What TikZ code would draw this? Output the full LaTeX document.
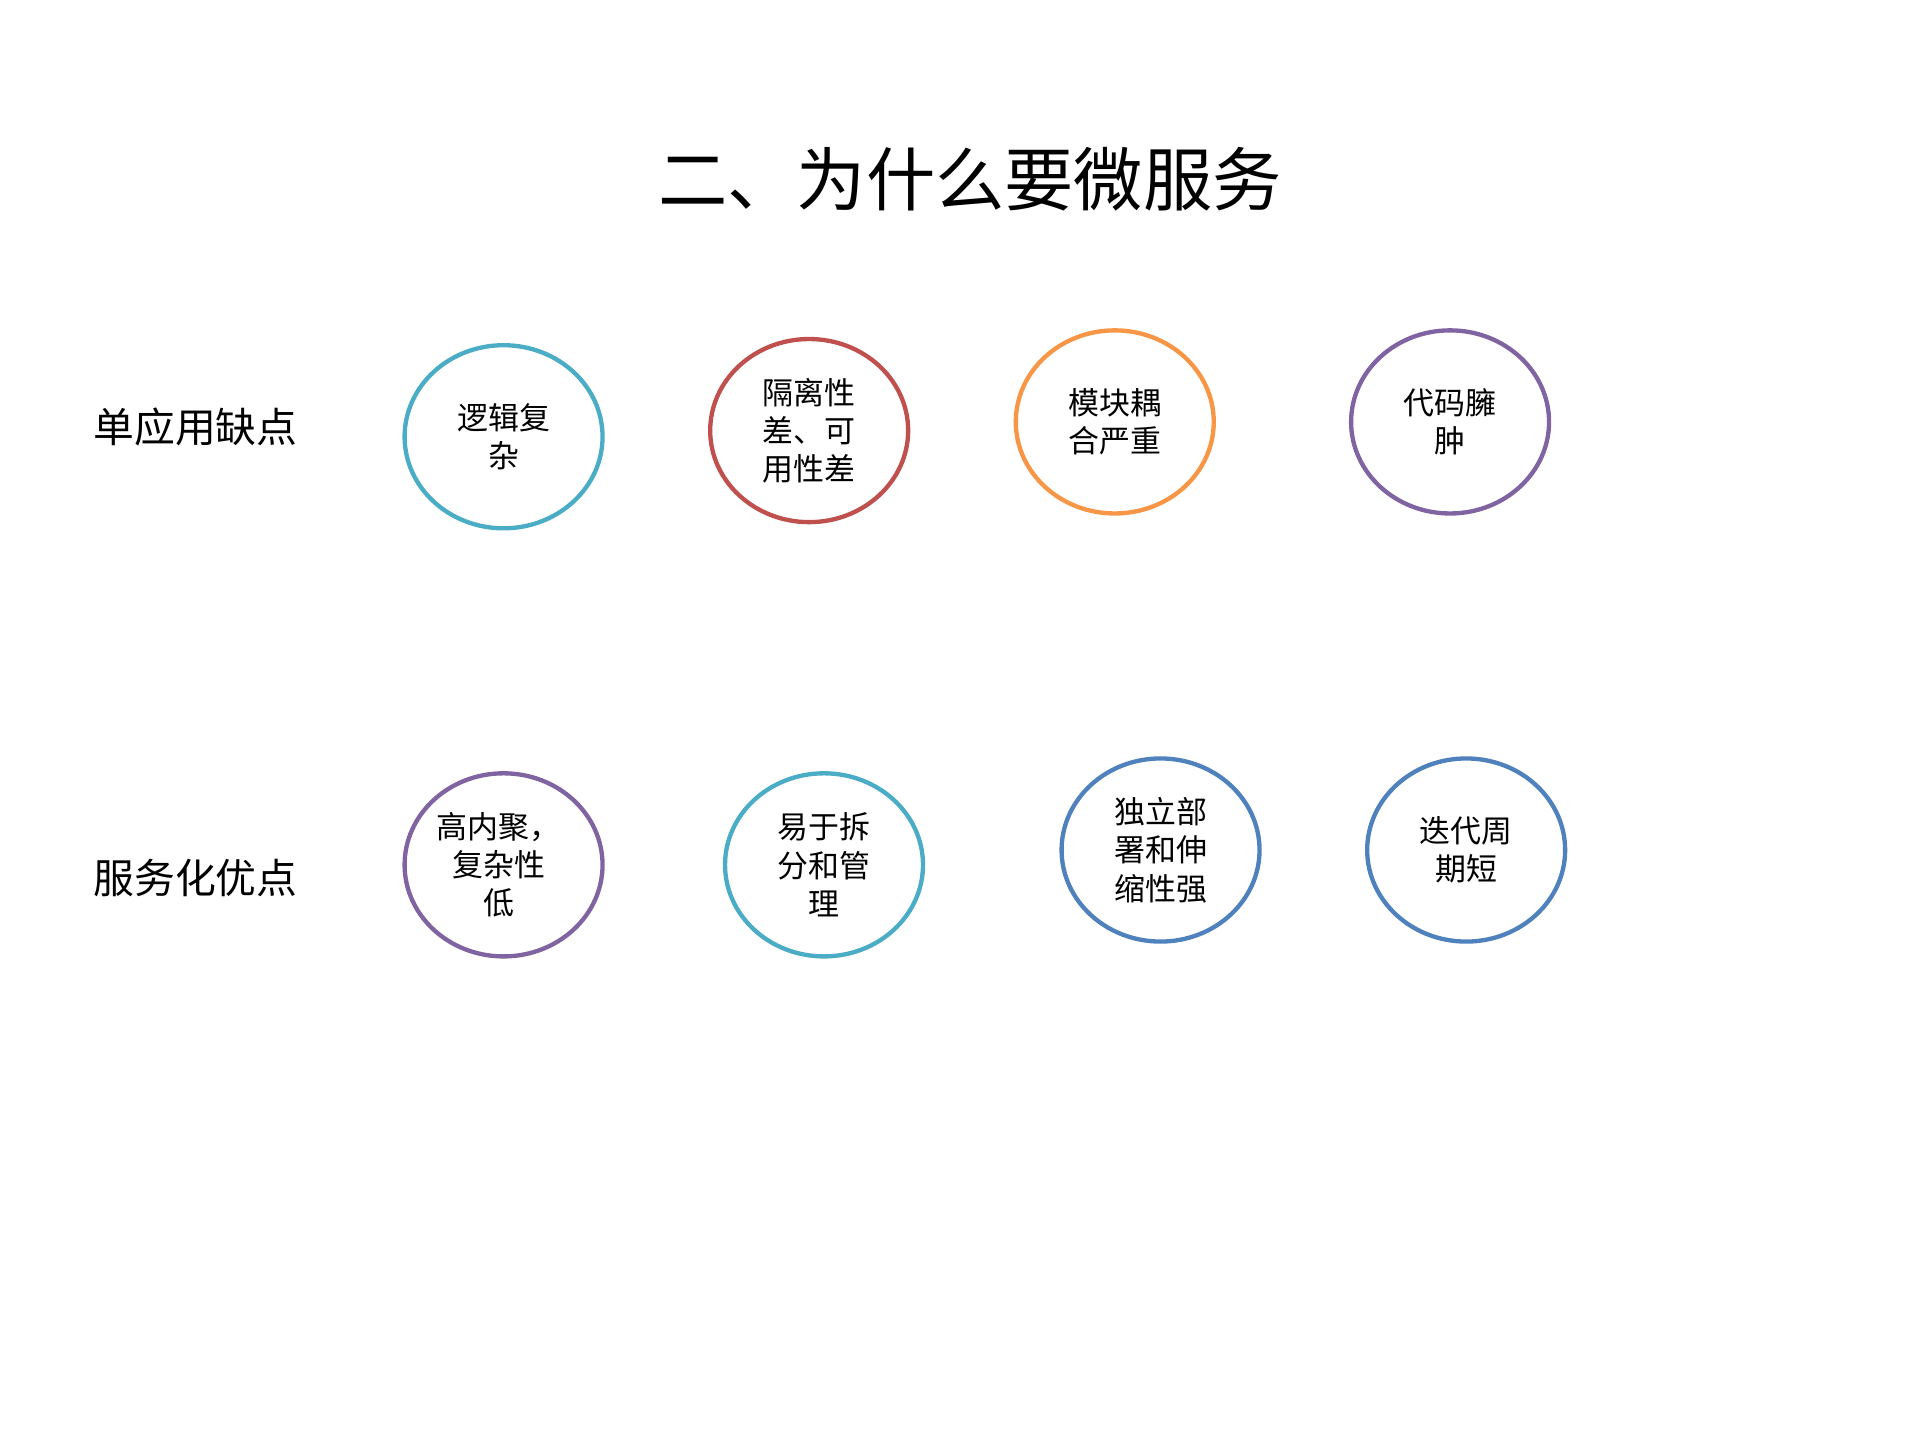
\documentclass[tikz,border=0pt]{standalone}
\usepackage{fontspec}
\setmainfont{Noto Sans CJK SC}
\newfontfamily\cjk{Noto Sans CJK SC}
\definecolor{cteal}{HTML}{4BACC6}
\definecolor{cred}{HTML}{C0504D}
\definecolor{corange}{HTML}{F79646}
\definecolor{cpurple}{HTML}{8064A2}
\definecolor{cblue}{HTML}{4F81BD}
\begin{document}
\begin{tikzpicture}[x=1pt,y=-1pt,
  bubble/.style={draw=#1,line width=3.5pt,ellipse,minimum width=157pt,minimum height=146pt,inner sep=0pt},
  btext/.style={align=center,font=\fontsize{25}{31}\selectfont},
  rowlabel/.style={font=\fontsize{33}{38}\selectfont}]
\useasboundingbox (0,0) rectangle (1551,1163);
\node (title) at (784,145) {\fontsize{56}{60}\selectfont 二、为什么要微服务};
\node[rowlabel] (l1) at (158,345) {单应用缺点};
\node[rowlabel] (l2) at (158,710) {服务化优点};
\draw[cteal,line width=3.5pt] (407,353) ellipse (80 and 74);
\node[btext] (a1) at (407,353) {逻辑复\\杂};
\draw[cred,line width=3.5pt] (654,348) ellipse (80 and 74);
\node[btext] (a2) at (654,348) {隔离性\\差、可\\用性差};
\draw[corange,line width=3.5pt] (901,341) ellipse (80 and 74);
\node[btext] (a3) at (901,341) {模块耦\\合严重};
\draw[cpurple,line width=3.5pt] (1172,341) ellipse (80 and 74);
\node[btext] (a4) at (1172,341) {代码臃\\肿};
\draw[cpurple,line width=3.5pt] (407,699) ellipse (80 and 74);
\node[btext] (b1) at (403,699) {高内聚，\\复杂性\\低};
\draw[cteal,line width=3.5pt] (666,699) ellipse (80 and 74);
\node[btext] (b2) at (666,699) {易于拆\\分和管\\理};
\draw[cblue,line width=3.5pt] (938,687) ellipse (80 and 74);
\node[btext] (b3) at (938,687) {独立部\\署和伸\\缩性强};
\draw[cblue,line width=3.5pt] (1185,687) ellipse (80 and 74);
\node[btext] (b4) at (1185,687) {迭代周\\期短};
\end{tikzpicture}
\end{document}
